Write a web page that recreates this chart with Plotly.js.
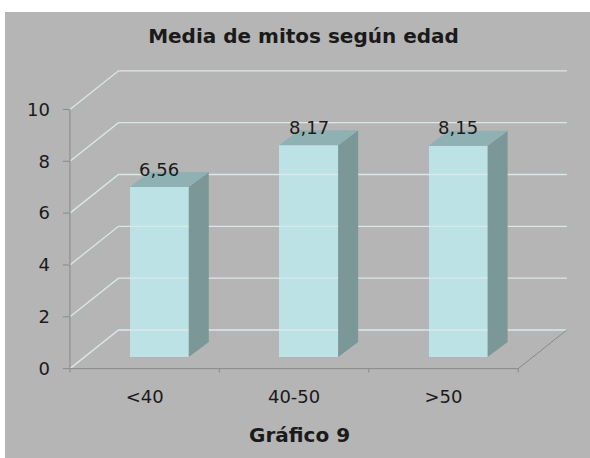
<!DOCTYPE html>
<html>
<head>
<meta charset="utf-8">
<script src="https://cdn.plot.ly/plotly-3.0.1.min.js"></script>
<style>
  html, body { margin: 0; padding: 0; background: #ffffff; width: 590px; height: 458px; overflow: hidden; }
  #chart { position: absolute; left: 5px; top: 12px; width: 585px; height: 446px; }
</style>
</head>
<body>
<div id="chart"></div>
<script>
// ---- data ----
const categories = ["<40", "40-50", ">50"];
const values = [6.56, 8.17, 8.15];
const valueLabels = ["6,56", "8,17", "8,15"];
const yTicks = [0, 2, 4, 6, 8, 10];
const titleText = "Media de mitos según edad";
const xTitleText = "Gráfico 9";

// ---- 3D projection constants (data units) ----
const wallDx = 0.325, wallDy = 1.49;      // back wall offset
const barDx = 0.0975, barDy = 0.448;      // bar front face offset from floor front
const depthDx = 0.134, depthDy = 0.579;   // bar depth
const barW = 0.395;
const xMin = -0.5, xMax = categories.length - 0.5;

const idx = categories.map((c, i) => i);

// back wall + side wall gridlines
const gx = [], gy = [];
yTicks.forEach(v => {
  gx.push(xMin, xMin + wallDx, xMax + wallDx, null);
  gy.push(v, v + wallDy, v + wallDy, null);
});

// floor front edge, right floor edge, y axis line, ticks
const ax = [], ay = [];
ax.push(xMin, xMax, xMax + wallDx, null); ay.push(0, 0, wallDy, null);
ax.push(xMin, xMin, null); ay.push(yTicks[0], yTicks[yTicks.length - 1], null);
yTicks.forEach(v => { ax.push(xMin - 0.047, xMin, null); ay.push(v, v, null); });
for (let i = 0; i <= categories.length; i++) {
  const x = xMin + i;
  ax.push(x, x, null); ay.push(0, -0.15, null);
}

// side faces and top faces
const sx = [], sy = [], tx = [], ty = [];
idx.forEach(i => {
  const xl = i + barDx - barW / 2, xr = i + barDx + barW / 2;
  const b = barDy, t = barDy + values[i];
  sx.push(xr, xr + depthDx, xr + depthDx, xr, xr, null);
  sy.push(b, b + depthDy, t + depthDy, t, b, null);
  tx.push(xl, xl + depthDx, xr + depthDx, xr, xl, null);
  ty.push(t, t + depthDy, t + depthDy, t, t, null);
});

const traces = [
  { type: "scatter", mode: "lines", x: gx, y: gy, line: { color: "#dbe8e8", width: 1.3 }, hoverinfo: "skip", showlegend: false },
  { type: "scatter", mode: "lines", x: ax, y: ay, line: { color: "#8a8a8a", width: 1 }, hoverinfo: "skip", showlegend: false },
  { type: "bar", x: idx.map(i => i + barDx), y: values, base: idx.map(() => barDy), width: barW,
    marker: { color: "#bce2e6", line: { width: 0 } }, hoverinfo: "skip", showlegend: false },
  { type: "scatter", mode: "lines", x: sx, y: sy, fill: "toself", fillcolor: "#7b9798",
    line: { width: 0, color: "#7b9798" }, hoverinfo: "skip", showlegend: false },
  { type: "scatter", mode: "lines", x: tx, y: ty, fill: "toself", fillcolor: "#8fb1b3",
    line: { width: 0, color: "#8fb1b3" }, hoverinfo: "skip", showlegend: false }
];

const annotations = idx.map(i => ({
  x: i + barDx, y: barDy + values[i] + depthDy, xref: "x", yref: "y",
  text: valueLabels[i], showarrow: false, yanchor: "middle", yshift: 3,
  font: { family: "DejaVu Sans", size: 18, color: "#1a1a1a" }
}));
annotations.push({
  x: 0.4675, y: -0.18, xref: "paper", yref: "paper", text: xTitleText, showarrow: false,
  xanchor: "center", yanchor: "middle",
  font: { family: "DejaVu Sans", size: 20, color: "#1a1a1a", weight: "bold" }
});

const layout = {
  width: 585, height: 446,
  margin: { l: 50, r: 12, t: 56, b: 79 },
  paper_bgcolor: "#b5b5b5", plot_bgcolor: "rgba(0,0,0,0)",
  title: { text: titleText, x: 0.5103, xref: "container", xanchor: "center",
           y: 1 - 24 / 446, yref: "container", yanchor: "middle",
           font: { family: "DejaVu Sans", size: 20, color: "#1a1a1a", weight: "bold" } },
  xaxis: { range: [-0.6, 2.9], tickvals: idx, ticktext: categories, ticks: "",
           showgrid: false, zeroline: false, showline: false, ticklabelstandoff: 5,
           tickfont: { family: "DejaVu Sans", size: 18, color: "#1a1a1a" } },
  yaxis: { range: [-0.4, 11.6], tickvals: yTicks, ticktext: yTicks.map(String), ticks: "",
           showgrid: false, zeroline: false, showline: false, ticklabelstandoff: 4,
           tickfont: { family: "DejaVu Sans", size: 18, color: "#1a1a1a" } },
  annotations: annotations,
  bargap: 0
};

Plotly.newPlot("chart", traces, layout, { displayModeBar: false, staticPlot: true });
</script>
</body>
</html>
